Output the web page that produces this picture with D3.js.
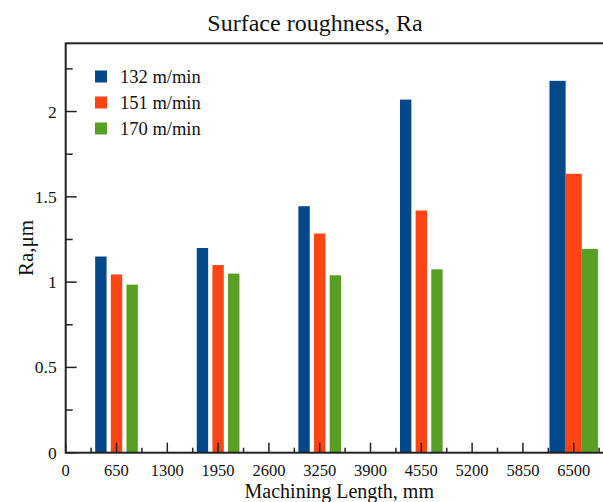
<!DOCTYPE html>
<html>
<head>
<meta charset="utf-8">
<script src="https://cdn.jsdelivr.net/npm/d3@7"></script>
<style>
  html, body { margin: 0; padding: 0; background: #fff; }
  svg { display: block; font-family: 'Liberation Serif', 'Times New Roman', serif; }
</style>
</head>
<body>
<div id="chart"></div>
<script>
// Machining length categories (mm)
const lengths = [650, 1950, 3250, 4550, 6500];
// Ra values per cutting speed (um)
const ra132 = [1.15, 1.20, 1.445, 2.07, 2.18];
const ra151 = [1.045, 1.10, 1.285, 1.42, 1.635];
const ra170 = [0.985, 1.05, 1.04, 1.075, 1.195];
const seriesNames = ['132 m/min', '151 m/min', '170 m/min'];
const xTickValues = [0, 650, 1300, 1950, 2600, 3250, 3900, 4550, 5200, 5850, 6500];
const yTickValues = [0, 0.5, 1, 1.5, 2];

const colors = ['#02498b', '#ff4513', '#589f23'];
const width = 603, height = 502;
const margin = { top: 43.3, right: -9.8, bottom: 49.3, left: 65.7 };
const chartWidth = width - margin.left - margin.right;
const chartHeight = height - margin.top - margin.bottom;

const svg = d3.select('#chart')
  .append('svg')
  .attr('width', width)
  .attr('height', height);

const g = svg.append('g')
  .attr('transform', `translate(${margin.left},${margin.top})`);

const xScale = d3.scaleLinear().domain([0, 7000]).range([0, chartWidth]);
const yScale = d3.scaleLinear().domain([0, 2.4]).range([chartHeight, 0]);

// Bars: orange sits on the category, blue and green either side
const series = [ra132, ra151, ra170];
const barData = [];
lengths.forEach((len, i) => {
  const gap = i > 0 ? len - lengths[i - 1] : lengths[i + 1] - len;
  const wide = gap > 1300;
  const step = wide ? gap * 0.106 : gap * 0.154;
  const w = wide ? gap * 0.106 : gap * 0.112;
  series.forEach((vals, s) => {
    barData.push({ x: len + (s - 1) * step, w: w, value: vals[i], s: s });
  });
});

g.append('g')
  .selectAll('rect')
  .data(barData)
  .enter()
  .append('rect')
  .attr('x', d => xScale(d.x - d.w / 2))
  .attr('width', d => xScale(d.w) - xScale(0))
  .attr('y', d => yScale(d.value))
  .attr('height', d => yScale(0) - yScale(d.value))
  .attr('fill', d => colors[d.s]);

// Axes
const axisColor = '#222';
const xMinor = d3.range(325, 7000, 650);
const yMinor = d3.range(0.25, 2.4, 0.5);

const xAxis = g.append('g').attr('transform', `translate(0,${chartHeight})`);
xAxis.selectAll('.major').data(xTickValues).enter().append('line')
  .attr('x1', d => xScale(d)).attr('x2', d => xScale(d))
  .attr('y1', 0).attr('y2', -10)
  .attr('stroke', axisColor).attr('stroke-width', 1.5);
xAxis.selectAll('.minor').data(xMinor).enter().append('line')
  .attr('x1', d => xScale(d)).attr('x2', d => xScale(d))
  .attr('y1', 0).attr('y2', -5)
  .attr('stroke', axisColor).attr('stroke-width', 1.5);
xAxis.selectAll('text').data(xTickValues).enter().append('text')
  .attr('x', d => xScale(d)).attr('y', 23)
  .attr('text-anchor', 'middle')
  .attr('font-size', '16.5px').attr('fill', '#111')
  .text(d => d);

const yAxis = g.append('g');
yAxis.selectAll('.major').data(yTickValues).enter().append('line')
  .attr('x1', 0).attr('x2', 11)
  .attr('y1', d => yScale(d)).attr('y2', d => yScale(d))
  .attr('stroke', axisColor).attr('stroke-width', 1.5);
yAxis.selectAll('.minor').data(yMinor).enter().append('line')
  .attr('x1', 0).attr('x2', 7)
  .attr('y1', d => yScale(d)).attr('y2', d => yScale(d))
  .attr('stroke', axisColor).attr('stroke-width', 1.5);
yAxis.selectAll('text').data(yTickValues).enter().append('text')
  .attr('x', -9).attr('y', d => yScale(d) + 6)
  .attr('text-anchor', 'end')
  .attr('font-size', '17.5px').attr('fill', '#111')
  .text(d => d);

// Frame
g.append('rect')
  .attr('x', 0).attr('y', 0)
  .attr('width', chartWidth).attr('height', chartHeight)
  .attr('fill', 'none')
  .attr('stroke', axisColor).attr('stroke-width', 2);

// Labels
svg.append('text')
  .attr('x', 315).attr('y', 31)
  .attr('text-anchor', 'middle')
  .attr('font-size', '24px').attr('fill', '#111')
  .text('Surface roughness, Ra');

svg.append('text')
  .attr('x', margin.left + chartWidth / 2).attr('y', 498)
  .attr('text-anchor', 'middle')
  .attr('font-size', '20px').attr('fill', '#111')
  .text('Machining Length, mm');

svg.append('text')
  .attr('transform', `translate(33,${margin.top + chartHeight / 2}) rotate(-90)`)
  .attr('text-anchor', 'middle')
  .attr('font-size', '21px').attr('fill', '#111')
  .text('Ra,\u03bcm');

// Legend
const legend = svg.append('g').attr('transform', 'translate(95,70.5)');
seriesNames.forEach((name, i) => {
  const row = legend.append('g').attr('transform', `translate(0,${i * 26})`);
  row.append('rect')
    .attr('width', 12).attr('height', 12)
    .attr('fill', colors[i]);
  row.append('text')
    .attr('x', 25).attr('y', 12.5)
    .attr('font-size', '18.5px').attr('fill', '#111')
    .text(name);
});
</script>
</body>
</html>
